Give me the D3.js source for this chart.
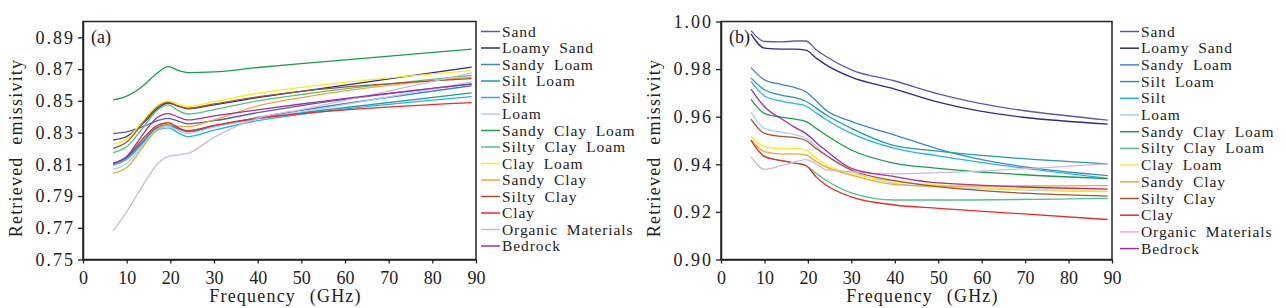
<!DOCTYPE html>
<html>
<head>
<meta charset="utf-8">
<script src="https://cdn.jsdelivr.net/npm/d3@7"></script>
<style>
body { margin: 0; background: #fff; }
svg text { font-family: "Liberation Serif", "Times New Roman", serif !important; fill: #222; }
</style>
</head>
<body>
<div id="wrapper"></div>
<script>
// soil types and colours (legend order)
const soils = ["Sand", "Loamy Sand", "Sandy Loam", "Silt Loam", "Silt", "Loam",
  "Sandy Clay Loam", "Silty Clay Loam", "Clay Loam", "Sandy Clay", "Silty Clay",
  "Clay", "Organic Materials", "Bedrock"];
const colors = ["#5a5aaa", "#2b2b8c", "#3d86cc", "#1e9e9e", "#1fb4ec", "#a6d2f2",
  "#16a04c", "#4cc486", "#f4f01c", "#f6a52c", "#a6522a", "#f02828", "#d4b6dc", "#a42ea6"];

// frequencies (GHz)
const freqs = [6.9, 10, 14, 17, 19.5, 22, 24, 30, 40, 50, 89];

// panel (a) retrieved emissivity
const emisA = [
  [0.8295, 0.8305, 0.8340, 0.8375, 0.8390, 0.8370, 0.8355, 0.8375, 0.8425, 0.8470, 0.8605],
  [0.8253, 0.8275, 0.8365, 0.8450, 0.8485, 0.8465, 0.8450, 0.8475, 0.8520, 0.8560, 0.8712],
  [0.8100, 0.8140, 0.8250, 0.8330, 0.8345, 0.8320, 0.8305, 0.8340, 0.8395, 0.8440, 0.8595],
  [0.8105, 0.8145, 0.8255, 0.8335, 0.8350, 0.8325, 0.8310, 0.8340, 0.8390, 0.8425, 0.8550],
  [0.8095, 0.8130, 0.8240, 0.8315, 0.8330, 0.8295, 0.8274, 0.8315, 0.8375, 0.8415, 0.8527],
  [0.8068, 0.8105, 0.8230, 0.8320, 0.8335, 0.8310, 0.8295, 0.8335, 0.8385, 0.8430, 0.8620],
  [0.8506, 0.8530, 0.8600, 0.8675, 0.8716, 0.8690, 0.8678, 0.8682, 0.8710, 0.8735, 0.8826],
  [0.8173, 0.8210, 0.8340, 0.8440, 0.8474, 0.8435, 0.8417, 0.8445, 0.8500, 0.8540, 0.8660],
  [0.8228, 0.8260, 0.8380, 0.8470, 0.8500, 0.8478, 0.8463, 0.8495, 0.8548, 0.8585, 0.8690],
  [0.8043, 0.8080, 0.8220, 0.8320, 0.8348, 0.8340, 0.8337, 0.8380, 0.8468, 0.8520, 0.8650],
  [0.8200, 0.8240, 0.8370, 0.8460, 0.8490, 0.8465, 0.8453, 0.8480, 0.8525, 0.8560, 0.8640],
  [0.8106, 0.8145, 0.8270, 0.8345, 0.8362, 0.8328, 0.8312, 0.8345, 0.8390, 0.8420, 0.8489],
  [0.7680, 0.7800, 0.7980, 0.8100, 0.8150, 0.8160, 0.8169, 0.8270, 0.8390, 0.8445, 0.8676],
  [0.8106, 0.8150, 0.8300, 0.8395, 0.8420, 0.8395, 0.8380, 0.8405, 0.8443, 0.8480, 0.8607]
];

// panel (b) retrieved emissivity
const emisB = [
  [0.9962, 0.9916, 0.9914, 0.9918, 0.9918, 0.9880, 0.9855, 0.9797, 0.9750, 0.9696, 0.9586],
  [0.9948, 0.9888, 0.9884, 0.9884, 0.9880, 0.9845, 0.9820, 0.9766, 0.9716, 0.9661, 0.9569],
  [0.9806, 0.9755, 0.9735, 0.9722, 0.9705, 0.9665, 0.9630, 0.9580, 0.9523, 0.9464, 0.9352],
  [0.9762, 0.9713, 0.9690, 0.9680, 0.9665, 0.9635, 0.9610, 0.9551, 0.9478, 0.9455, 0.9402],
  [0.9748, 0.9687, 0.9665, 0.9655, 0.9645, 0.9615, 0.9590, 0.9530, 0.9467, 0.9435, 0.9341],
  [0.9619, 0.9551, 0.9535, 0.9525, 0.9510, 0.9475, 0.9440, 0.9373, 0.9320, 0.9305, 0.9285],
  [0.9673, 0.9614, 0.9598, 0.9590, 0.9580, 0.9550, 0.9525, 0.9460, 0.9404, 0.9383, 0.9340],
  [0.9500, 0.9435, 0.9415, 0.9405, 0.9395, 0.9360, 0.9335, 0.9280, 0.9250, 0.9250, 0.9257],
  [0.9519, 0.9474, 0.9465, 0.9466, 0.9460, 0.9425, 0.9400, 0.9362, 0.9327, 0.9313, 0.9287],
  [0.9502, 0.9453, 0.9443, 0.9444, 0.9440, 0.9410, 0.9390, 0.9355, 0.9315, 0.9308, 0.9310],
  [0.9590, 0.9530, 0.9517, 0.9512, 0.9500, 0.9465, 0.9440, 0.9376, 0.9331, 0.9306, 0.9266],
  [0.9502, 0.9432, 0.9415, 0.9405, 0.9395, 0.9345, 0.9315, 0.9263, 0.9229, 0.9215, 0.9168],
  [0.9432, 0.9379, 0.9395, 0.9410, 0.9420, 0.9400, 0.9378, 0.9368, 0.9360, 0.9365, 0.9402],
  [0.9716, 0.9642, 0.9590, 0.9555, 0.9530, 0.9490, 0.9460, 0.9383, 0.9348, 0.9322, 0.9296]
];

const xTicks = [0, 10, 20, 30, 40, 50, 60, 70, 80, 90];
const yTicksA = [0.75, 0.77, 0.79, 0.81, 0.83, 0.85, 0.87, 0.89];
const yTicksB = [0.90, 0.92, 0.94, 0.96, 0.98, 1.00];

const svg = d3.select("#wrapper").append("svg")
  .attr("width", 1286)
  .attr("height", 308);

function drawPanel(opt) {
  const xScale = d3.scaleLinear().domain([0, 90]).range([opt.left, opt.right]);
  const yScale = d3.scaleLinear().domain(opt.yDomain).range([259.5, 21.5]);

  const g = svg.append("g");

  const line = d3.line()
    .x((d, i) => xScale(freqs[i]))
    .y(d => yScale(d))
    .curve(d3.curveMonotoneX);

  g.selectAll("path.series")
    .data(opt.data)
    .join("path")
    .attr("class", "series")
    .attr("d", d => line(d))
    .attr("fill", "none")
    .attr("stroke", (d, i) => colors[i])
    .attr("stroke-width", 1.3);

  // frame
  g.append("rect")
    .attr("x", opt.left)
    .attr("y", 21.5)
    .attr("width", opt.right - opt.left)
    .attr("height", 238)
    .attr("fill", "none")
    .attr("stroke", "#222")
    .attr("stroke-width", 1.5);

  const xAxis = g.append("g")
    .attr("transform", "translate(0,259.5)")
    .call(d3.axisBottom(xScale).tickValues(xTicks).tickSize(4).tickSizeOuter(0));
  const yAxis = g.append("g")
    .attr("transform", `translate(${opt.left},0)`)
    .call(d3.axisLeft(yScale).tickValues(opt.yTicks).tickSize(5).tickSizeOuter(0)
      .tickFormat(d3.format(".2f")));

  [xAxis, yAxis].forEach(ax => {
    ax.select(".domain").attr("stroke", "#222").attr("stroke-width", 1.5);
    ax.selectAll(".tick line").attr("stroke", "#222").attr("stroke-width", 1.3);
    ax.selectAll(".tick text")
      .attr("font-size", 18)
      .attr("fill", "#222");
  });
  xAxis.selectAll(".tick text").attr("dy", "0.95em");
  yAxis.selectAll(".tick text").attr("letter-spacing", 2).attr("x", -8);

  g.append("text")
    .attr("x", (opt.left + opt.right) / 2 + 6)
    .attr("y", 302)
    .attr("text-anchor", "middle")
    .attr("font-size", 18)
    .attr("letter-spacing", 1.2)
    .attr("word-spacing", 8)
    .text("Frequency (GHz)");

  g.append("text")
    .attr("transform", `translate(${opt.left - 61},148) rotate(-90)`)
    .attr("text-anchor", "middle")
    .attr("font-size", 18)
    .attr("letter-spacing", 1.2)
    .attr("word-spacing", 6)
    .text("Retrieved emissivity");

  g.append("text")
    .attr("x", opt.left + 8)
    .attr("y", 43)
    .attr("font-size", 18)
    .text(opt.tag);

  // legend
  const leg = g.append("g");
  soils.forEach((s, i) => {
    const y = 31.5 + i * opt.step;
    leg.append("line")
      .attr("x1", opt.legX).attr("x2", opt.legX + 19)
      .attr("y1", y).attr("y2", y)
      .attr("stroke", colors[i]).attr("stroke-width", 1.5);
    leg.append("text")
      .attr("x", opt.legX + 21)
      .attr("y", y + 5)
      .attr("font-size", 15.5)
      .attr("letter-spacing", 0.9)
      .attr("word-spacing", 4)
      .text(s);
  });
}

drawPanel({ left: 83, right: 476, yDomain: [0.75, 0.90], yTicks: yTicksA,
  data: emisA, tag: "(a)", legX: 481, step: 16.5 });
drawPanel({ left: 721, right: 1112, yDomain: [0.90, 1.00], yTicks: yTicksB,
  data: emisB, tag: "(b)", legX: 1120, step: 16.7 });
</script>
</body>
</html>
